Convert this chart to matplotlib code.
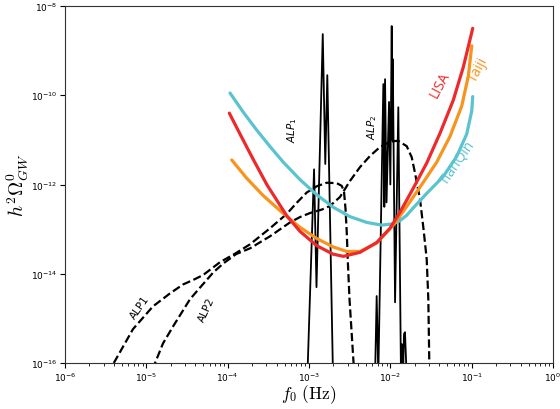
import matplotlib

matplotlib.use("Agg")
import matplotlib.pyplot as plt
import numpy as np
from matplotlib.ticker import LogLocator, NullLocator

plt.rcParams.update({"mathtext.fontset": "cm", "font.size": 9})

# detector sensitivity curves, log10(f / Hz) and log10(h^2 Omega)
lisa_logf = [-3.980, -3.848, -3.688, -3.516, -3.274, -3.111, -2.905, -2.705, -2.578, -2.373,
             -2.167, -2.004, -1.881, -1.717, -1.553, -1.389, -1.226, -1.103, -0.987]
lisa_logo = [-10.40, -10.87, -11.43, -12.01, -12.70, -13.05, -13.37, -13.56, -13.61, -13.52,
             -13.30, -12.98, -12.62, -12.08, -11.52, -10.85, -10.11, -9.37, -8.50]

taiji_logf = [-3.950, -3.766, -3.562, -3.316, -3.111, -2.905, -2.701, -2.536, -2.373, -2.167,
              -1.963, -1.840, -1.635, -1.430, -1.266, -1.122, -1.041, -0.999]
taiji_logo = [-11.45, -11.86, -12.25, -12.65, -12.96, -13.21, -13.40, -13.50, -13.50, -13.31,
              -12.91, -12.60, -12.06, -11.50, -10.92, -10.24, -9.57, -8.89]

tianqin_logf = [-3.971, -3.808, -3.643, -3.479, -3.316, -3.111, -2.905, -2.701, -2.496, -2.290,
                -2.106, -1.963, -1.881, -1.799, -1.721, -1.553, -1.349, -1.184, -1.061,
                -0.999, -0.987]
tianqin_logo = [-9.95, -10.38, -10.78, -11.15, -11.50, -11.89, -12.23, -12.51, -12.72, -12.85,
                -12.91, -12.88, -12.81, -12.69, -12.53, -12.20, -11.82, -11.37, -10.87,
                -10.35, -10.03]

# ALP spectra (dashed)
alp1_logf = [-5.400, -5.164, -4.918, -4.709, -4.549, -4.426, -4.303, -4.094, -3.910, -3.725,
             -3.479, -3.274, -3.151, -3.028, -2.905, -2.782, -2.659, -2.598, -2.570, -2.551,
             -2.536, -2.524, -2.502, -2.455, -2.447]
alp1_logo = [-16.00, -15.24, -14.73, -14.44, -14.24, -14.14, -14.03, -13.74, -13.55, -13.34,
             -12.98, -12.66, -12.41, -12.18, -12.04, -11.96, -11.97, -12.03, -12.15, -12.55,
             -13.07, -13.67, -14.57, -15.92, -16.14]

alp2_logf = [-4.924, -4.795, -4.668, -4.463, -4.340, -4.177, -4.054, -3.897, -3.725, -3.479,
             -3.234, -3.111, -2.988, -2.840, -2.742, -2.619, -2.496, -2.373, -2.250, -2.127,
             -2.004, -1.906, -1.799, -1.737, -1.697, -1.635, -1.592, -1.553, -1.533, -1.521,
             -1.518]
alp2_logo = [-16.14, -15.56, -15.17, -14.57, -14.31, -13.97, -13.77, -13.56, -13.43, -13.16,
             -12.85, -12.73, -12.64, -12.56, -12.48, -12.28, -11.92, -11.61, -11.36, -11.16,
             -11.04, -11.02, -11.14, -11.39, -11.74, -12.33, -13.00, -13.67, -14.57, -16.00,
             -16.14]

# ALP spectra with resonance peaks (solid), two separate groups
peak1_logf = [-3.020, -2.938, -2.908, -2.831, -2.800, -2.775, -2.705]
peak1_logo = [-16.30, -11.66, -14.30, -8.63, -11.54, -9.55, -16.30]

peak2_logf = [-2.188, -2.168, -2.148, -2.086, -2.074, -2.065, -2.047, -2.016, -2.000,
              -1.983, -1.976, -1.970, -1.942, -1.902, -1.869, -1.857, -1.844, -1.832,
              -1.820, -1.799]
peak2_logo = [-16.30, -14.50, -16.30, -9.75, -12.50, -9.64, -12.40, -10.15, -12.00,
              -8.45, -11.00, -9.19, -14.64, -10.27, -16.30, -15.58, -16.30, -15.35,
              -15.31, -16.30]

x_ticks = [1e-6, 1e-5, 1e-4, 1e-3, 1e-2, 1e-1, 1e0]
y_ticks = [1e-16, 1e-14, 1e-12, 1e-10, 1e-8]

LISA_C = "#ec2a2c"
TAIJI_C = "#f7941d"
TIANQIN_C = "#5bc3cf"


def pw(v):
    return 10.0 ** np.asarray(v)


fig = plt.figure(figsize=(5.6, 4.1), dpi=100)
ax = fig.add_axes([0.1161, 0.1122, 0.8714, 0.8707])

ax.plot(pw(peak1_logf), pw(peak1_logo), color="black", lw=1.3)
ax.plot(pw(peak2_logf), pw(peak2_logo), color="black", lw=1.3)
ax.plot(pw(alp1_logf), pw(alp1_logo), color="black", lw=1.6, ls="--")
ax.plot(pw(alp2_logf), pw(alp2_logo), color="black", lw=1.6, ls="--")

ax.plot(pw(tianqin_logf), pw(tianqin_logo), color=TIANQIN_C, lw=2.3, solid_capstyle="round")
ax.plot(pw(taiji_logf), pw(taiji_logo), color=TAIJI_C, lw=2.3, solid_capstyle="round")
ax.plot(pw(lisa_logf), pw(lisa_logo), color=LISA_C, lw=2.3, solid_capstyle="round")

ax.set_xscale("log")
ax.set_yscale("log")
ax.set_xticks(x_ticks)
ax.set_yticks(y_ticks)
ax.set_xlim(1e-6, 1)
ax.set_ylim(1e-16, 1e-8)
ax.yaxis.set_minor_locator(NullLocator())
ax.xaxis.set_minor_locator(LogLocator(base=10.0, subs=np.arange(2, 10), numticks=12))
ax.tick_params(labelsize=6.5, pad=2)
for s in ax.spines.values():
    s.set_color("#333333")

ax.set_xlabel(r"$f_0\ \mathrm{(Hz)}$", fontsize=12.5)
ax.xaxis.set_label_coords(0.5, -0.055)
ax.set_ylabel(r"$h^2\Omega^0_{GW}$", fontsize=14)
ax.yaxis.set_label_coords(-0.07, 0.5)

lab = dict(family="Open Sans", fontsize=10, ha="center", va="center")
ax.text(10 ** -1.389, 10 ** -9.75, "LISA", color=LISA_C, rotation=62, **lab)
ax.text(10 ** -0.922, 10 ** -9.41, "Taiji", color=TAIJI_C, rotation=62, **lab)
ax.text(10 ** -1.180, 10 ** -11.50, "TianQin", color=TIANQIN_C, rotation=55, **lab)

alp = dict(fontsize=7.5, ha="center", va="center")
ax.text(10 ** -3.213, 10 ** -10.76, r"$ALP_1$", rotation=90, math_fontfamily="dejavusans", **alp)
ax.text(10 ** -2.219, 10 ** -10.69, r"$ALP_2$", rotation=90, math_fontfamily="dejavusans", **alp)
ax.text(10 ** -5.078, 10 ** -14.75, "ALP1", rotation=55, **alp)
ax.text(10 ** -4.254, 10 ** -14.79, "ALP2", rotation=65, **alp)

fig.savefig("out.png", dpi=100)
